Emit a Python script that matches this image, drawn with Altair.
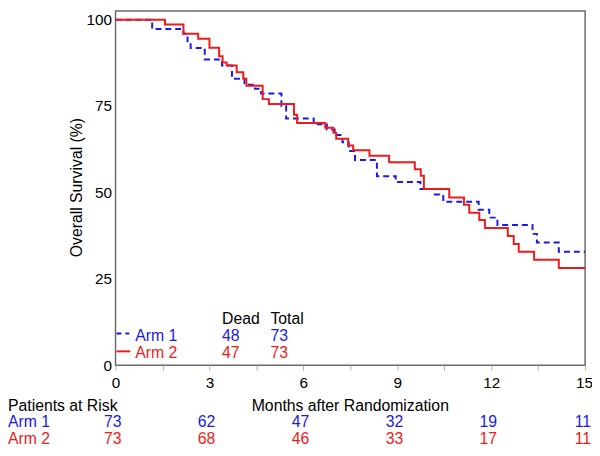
import altair as alt
import pandas as pd

# ---- data ----
arm1_months = [0, 1.17, 2.17, 2.3, 2.4, 2.85, 3.4, 3.72, 4.12, 4.45, 4.65, 5.3, 5.45,
               6.33, 6.75, 7.0, 7.25, 7.45, 7.65, 8.35, 8.95, 9.74, 10.2, 10.47, 11.6,
               11.94, 12.2, 13.32, 13.46, 14.16, 15]
arm1_surv = [100, 97.3, 95.9, 93.2, 91.8, 88.5, 86.7, 82.9, 81.2, 80.0, 78.6, 75.0, 71.4,
             69.7, 68.2, 66.6, 64.5, 62.0, 59.4, 54.7, 53.0, 51.0, 49.4, 47.3, 45.0,
             42.7, 40.6, 38.0, 35.5, 32.8, 32.8]

arm2_months = [0, 1.58, 2.17, 2.64, 3.0, 3.31, 3.42, 3.55, 3.87, 4.08, 4.18, 4.7, 4.9,
               5.7, 5.8, 6.7, 6.96, 7.05, 7.43, 7.59, 8.11, 8.74, 9.56, 9.75, 9.85,
               10.66, 11.13, 11.3, 11.62, 11.8, 12.53, 12.72, 12.88, 13.37, 14.16, 15]
arm2_surv = [100, 98.6, 95.9, 94.5, 91.9, 89.4, 87.6, 86.7, 84.8, 82.9, 80.9, 77.0, 75.6,
             72.5, 70.1, 68.7, 67.3, 65.5, 63.6, 62.2, 60.6, 58.7, 56.7, 54.8, 51.0,
             48.5, 46.4, 44.1, 42.0, 39.7, 37.4, 35.1, 32.8, 30.5, 28.1, 28.1]

risk_months = [0, 3, 6, 9, 12, 15]
risk_arm1 = [73, 62, 47, 32, 19, 11]
risk_arm2 = [73, 68, 46, 33, 17, 11]

arm_names = ["Arm 1", "Arm 2"]
dead_counts = [48, 47]
total_counts = [73, 73]

x_tick_values = [0, 1.5, 3, 4.5, 6, 7.5, 9, 10.5, 12, 13.5, 15]
last_x_label = [15]
y_tick_values = [0, 25, 50, 75, 100]

# ---- styling ----
BLUE = "#1a1ae6"
RED = "#ee1b1b"
FONT = "Liberation Sans"
FS = 16
FSL = 15.5
W, H = 476, 359

xs = alt.Scale(domain=[0, 15], nice=False, zero=False)
ys = alt.Scale(domain=[0, 102.5], nice=False, zero=True)

x_axis = alt.Axis(values=x_tick_values,
                  labelExpr="(datum.value % 3 == 0 && datum.value < 15) ? datum.label : ''",
                  title=None, tickSize=5, tickColor="#b0b0b0", tickWidth=1,
                  labelFontSize=FSL, labelFont=FONT, labelColor="black",
                  domain=False, grid=False, labelPadding=6,
                  labelFlush=False, labelOverlap=False)
y_axis = alt.Axis(values=y_tick_values, title=None, ticks=False,
                  labelPadding=4, labelFontSize=FSL, labelFont=FONT,
                  labelColor="black", domain=False, grid=False)

x_enc = alt.X("month:Q", scale=xs, axis=x_axis)
y_enc = alt.Y("surv:Q", scale=ys, axis=y_axis)

df1 = pd.DataFrame({"month": arm1_months, "surv": arm1_surv})
df2 = pd.DataFrame({"month": arm2_months, "surv": arm2_surv})

line1 = alt.Chart(df1).mark_line(interpolate="step-after", color=BLUE,
                                 strokeWidth=2, strokeDash=[6, 4]).encode(x=x_enc, y=y_enc)
line2 = alt.Chart(df2).mark_line(interpolate="step-after", color=RED,
                                 strokeWidth=2).encode(x=x_enc, y=y_enc)

# last x tick label, kept inside the page
last_lab = alt.Chart(pd.DataFrame({"month": last_x_label})).mark_text(
    font=FONT, fontSize=FSL, color="black", align="right", baseline="top", dx=8
).encode(x=x_enc, y=alt.value(H + 11), text="month:Q")


def label(text, x, y, color="black", align="left", angle=0):
    kw = dict(text=text, font=FONT, fontSize=FS, color=color, align=align,
              baseline="middle")
    if angle:
        kw["angle"] = angle
    return alt.Chart(pd.DataFrame({"t": [text]})).mark_text(**kw).encode(
        x=alt.value(x), y=alt.value(y))


ROW0, ROW1, ROW2 = 400, 417, 434

# risk table
risk1 = alt.Chart(pd.DataFrame({"month": risk_months, "n": risk_arm1})).mark_text(
    font=FONT, fontSize=FS, color=BLUE, align="right", baseline="middle", dx=6
).encode(x=x_enc, y=alt.value(ROW1), text="n:Q")
risk2 = alt.Chart(pd.DataFrame({"month": risk_months, "n": risk_arm2})).mark_text(
    font=FONT, fontSize=FS, color=RED, align="right", baseline="middle", dx=6
).encode(x=x_enc, y=alt.value(ROW2), text="n:Q")

# legend inside the plot
leg_rule1 = alt.Chart(pd.DataFrame({"a": [0]})).mark_rule(
    color=BLUE, strokeWidth=2, strokeDash=[5, 4]).encode(
    x=alt.value(1), x2=alt.value(14), y=alt.value(327))
leg_rule2 = alt.Chart(pd.DataFrame({"a": [0]})).mark_rule(
    color=RED, strokeWidth=2).encode(
    x=alt.value(1), x2=alt.value(15), y=alt.value(345))

layers = [
    line1, line2, last_lab, risk1, risk2, leg_rule1, leg_rule2,
    label("Dead", 108, 312), label("Total", 157, 312),
    label(arm_names[0], 20, 330, BLUE), label(str(dead_counts[0]), 108, 330, BLUE),
    label(str(total_counts[0]), 157, 330, BLUE),
    label(arm_names[1], 20, 347, RED), label(str(dead_counts[1]), 108, 347, RED),
    label(str(total_counts[1]), 157, 347, RED),
    label("Overall Survival (%)", -39, 179, angle=270, align="center"),
    label("Months after Randomization", W / 2, ROW0, align="center"),
    label("Patients at Risk", -109, ROW0),
    label(arm_names[0], -109, ROW1, BLUE),
    label(arm_names[1], -109, ROW2, RED),
]

chart = alt.layer(*layers).properties(
    width=W, height=H,
    padding={"left": 109, "top": 0, "right": 7, "bottom": 88},
    autosize=alt.AutoSizeParams(type="none"),
).configure_view(stroke="#6a6a6a", strokeWidth=1.5)

chart.save("out.html", embed_options={"renderer": "svg", "actions": False})
